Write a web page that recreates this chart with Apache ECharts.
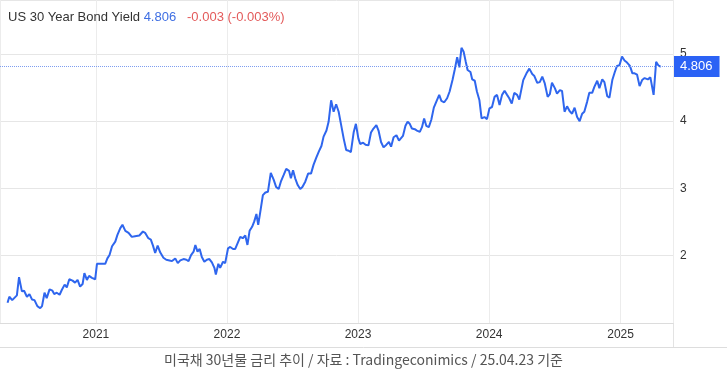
<!DOCTYPE html>
<html><head><meta charset="utf-8">
<script src="https://cdn.jsdelivr.net/npm/echarts@6/dist/echarts.min.js"></script>
<style>html,body{margin:0;padding:0;background:#fff}#c{width:727px;height:385px}</style>
</head><body><div id="c"></div>
<script>
const dates = [
'2020-04-30','2020-05-05','2020-05-13','2020-05-26','2020-06-01','2020-06-09','2020-06-15','2020-06-23','2020-06-30','2020-07-07',
'2020-07-14','2020-07-22','2020-07-30','2020-08-04','2020-08-11','2020-08-17','2020-08-25','2020-09-02','2020-09-07','2020-09-14',
'2020-09-22','2020-09-28','2020-10-06','2020-10-12','2020-10-19','2020-10-28','2020-11-04','2020-11-11','2020-11-18','2020-11-25',
'2020-11-30','2020-12-07','2020-12-13','2020-12-21','2020-12-30',
'2021-01-04','2021-01-13','2021-01-27','2021-02-02','2021-02-08','2021-02-15','2021-02-24','2021-03-02','2021-03-10','2021-03-16',
'2021-03-24','2021-04-02','2021-04-11','2021-04-20','2021-05-02','2021-05-12','2021-05-18','2021-05-27','2021-06-03','2021-06-09',
'2021-06-15','2021-06-22','2021-06-29','2021-07-08','2021-07-16','2021-07-25','2021-08-01','2021-08-10','2021-08-17','2021-08-24',
'2021-09-02','2021-09-10','2021-09-16','2021-09-23','2021-09-30','2021-10-05','2021-10-11','2021-10-17','2021-10-23','2021-10-30',
'2021-11-06','2021-11-13','2021-11-20','2021-11-27','2021-12-01','2021-12-08','2021-12-13','2021-12-21','2021-12-27',
'2022-01-04','2022-01-10','2022-01-18','2022-01-24','2022-01-31','2022-02-07','2022-02-14','2022-02-21','2022-02-27','2022-03-05',
'2022-03-12','2022-03-18','2022-03-24','2022-03-29','2022-04-04','2022-04-11','2022-04-18','2022-04-25','2022-05-03','2022-05-11',
'2022-05-18','2022-05-25','2022-05-31','2022-06-08','2022-06-15','2022-06-23','2022-06-28','2022-07-04','2022-07-10','2022-07-17',
'2022-07-24','2022-07-30','2022-08-07','2022-08-15','2022-08-23','2022-08-30','2022-09-07','2022-09-14','2022-09-21','2022-09-27',
'2022-10-05','2022-10-11','2022-10-18','2022-10-25','2022-11-01','2022-11-08','2022-11-15','2022-11-22','2022-11-29','2022-12-06',
'2022-12-12','2022-12-20','2022-12-26',
'2023-01-02','2023-01-07','2023-01-15','2023-01-22','2023-01-30','2023-02-06','2023-02-13','2023-02-21','2023-02-27','2023-03-06',
'2023-03-13','2023-03-21','2023-03-28','2023-04-03','2023-04-10','2023-04-18','2023-04-25','2023-05-06','2023-05-13','2023-05-19',
'2023-05-25','2023-05-31','2023-06-08','2023-06-14','2023-06-22','2023-06-28','2023-07-04','2023-07-10','2023-07-17','2023-07-24',
'2023-07-31','2023-08-07','2023-08-15','2023-08-21','2023-08-29','2023-09-06','2023-09-13','2023-09-21','2023-09-27','2023-10-04',
'2023-10-10','2023-10-16','2023-10-22','2023-10-28','2023-11-02','2023-11-10','2023-11-15','2023-11-22','2023-11-28','2023-12-05',
'2023-12-11','2023-12-19','2023-12-26',
'2024-01-02','2024-01-09','2024-01-16','2024-01-23','2024-01-30','2024-02-06','2024-02-13','2024-02-20','2024-02-26','2024-03-04',
'2024-03-11','2024-03-19','2024-03-25','2024-04-05','2024-04-14','2024-04-22','2024-04-30','2024-05-06','2024-05-14','2024-05-21',
'2024-05-28','2024-06-04','2024-06-12','2024-06-18','2024-06-24','2024-07-02','2024-07-08','2024-07-16','2024-07-22','2024-07-29',
'2024-08-05','2024-08-12','2024-08-19','2024-08-26','2024-09-02','2024-09-09','2024-09-16','2024-09-22','2024-09-30','2024-10-06',
'2024-10-14','2024-10-20','2024-10-28','2024-11-03','2024-11-11','2024-11-17','2024-11-25','2024-12-01','2024-12-09','2024-12-16',
'2024-12-22','2024-12-29',
'2025-01-05','2025-01-12','2025-01-19','2025-01-27','2025-02-03','2025-02-09','2025-02-16','2025-02-23','2025-03-02','2025-03-09',
'2025-03-18','2025-03-25','2025-04-03','2025-04-10','2025-04-16','2025-04-23'
];
const yields = [
1.30,1.39,1.34,1.41,1.68,1.47,1.48,1.39,1.43,1.35,
1.34,1.25,1.22,1.25,1.45,1.37,1.50,1.48,1.43,1.45,
1.42,1.49,1.57,1.53,1.65,1.63,1.60,1.64,1.54,1.58,
1.74,1.64,1.70,1.67,1.65,
1.88,1.88,1.88,1.96,2.01,2.14,2.21,2.31,2.41,2.46,
2.37,2.34,2.28,2.29,2.30,2.36,2.34,2.26,2.24,2.15,
2.04,2.15,2.05,1.97,1.94,1.93,1.92,1.96,1.89,1.93,
1.95,1.94,1.92,2.01,2.06,2.16,2.06,2.10,1.98,1.91,
1.94,1.95,1.90,1.82,1.72,1.88,1.82,1.91,1.89,
2.11,2.13,2.10,2.10,2.19,2.28,2.26,2.30,2.16,2.37,
2.43,2.51,2.62,2.46,2.66,2.90,2.94,2.95,3.23,3.13,
3.02,2.99,3.10,3.20,3.29,3.26,3.15,3.27,3.15,3.05,
2.99,3.02,3.10,3.22,3.22,3.35,3.46,3.55,3.63,3.77,
3.86,3.99,4.31,4.14,4.25,4.14,3.94,3.74,3.57,3.56,
3.54,3.84,3.96,
3.74,3.66,3.68,3.65,3.64,3.83,3.89,3.94,3.86,3.69,
3.61,3.65,3.69,3.62,3.76,3.79,3.71,3.78,3.93,3.99,
3.96,3.89,3.88,3.86,3.84,3.91,4.04,3.93,3.91,4.02,
4.20,4.29,4.39,4.30,4.28,4.34,4.44,4.61,4.76,4.95,
4.80,5.09,5.03,4.88,4.76,4.73,4.62,4.60,4.44,4.31,
4.04,4.06,4.03,
4.19,4.21,4.36,4.39,4.24,4.39,4.45,4.39,4.34,4.26,
4.42,4.39,4.32,4.61,4.71,4.78,4.70,4.67,4.57,4.58,
4.66,4.56,4.36,4.40,4.57,4.49,4.41,4.46,4.45,4.14,
4.22,4.15,4.11,4.20,4.06,4.00,4.11,4.14,4.29,4.42,
4.42,4.51,4.60,4.49,4.62,4.58,4.37,4.35,4.61,4.73,
4.82,4.83,
4.96,4.90,4.87,4.82,4.71,4.71,4.69,4.52,4.61,4.64,
4.62,4.65,4.39,4.88,4.83,4.806
];
const yTickLabels = [2, 3, 4, 5];
const lastValue = 4.806;
const seriesName = 'US 30 Year Bond Yield';
const changeText = '-0.003 (-0.003%)';
const caption = '미국채 30년물 금리 추이 / 자료 : Tradingeconimics / 25.04.23 기준';
const xMin = '2020-04-09';
const xMax = '2025-05-27';

const FONT = 'Liberation Sans, Arial, sans-serif';
const chart = echarts.init(document.getElementById('c'), null, {renderer: 'canvas'});
const DAY = 864e5;
chart.setOption({
  animation: false,
  backgroundColor: '#fff',
  title: {
    left: 3, top: 6,
    text: '{a|' + seriesName + '} {b|' + lastValue + '}   {c|' + changeText + '}',
    textStyle: {
      fontWeight: 'normal', fontSize: 13, fontFamily: FONT,
      rich: {
        a: {fontSize: 13, color: '#333', fontWeight: 'normal', fontFamily: FONT},
        b: {fontSize: 13, color: '#3f6fe3', fontWeight: 'normal', fontFamily: FONT},
        c: {fontSize: 13, color: '#e35a5a', fontWeight: 'normal', fontFamily: FONT}
      }
    }
  },
  grid: {left: 0, right: 54, top: 0, bottom: 62},
  xAxis: {
    type: 'time', min: xMin, max: xMax,
    minInterval: 365 * DAY, maxInterval: 366 * DAY,
    axisLine: {show: true, lineStyle: {color: '#dcdcdc'}},
    axisTick: {show: false},
    axisLabel: {formatter: '{yyyy}', color: '#333', fontSize: 12, margin: 6, fontFamily: FONT},
    splitLine: {show: true, lineStyle: {color: '#ececec'}}
  },
  yAxis: {
    type: 'value', position: 'right', min: 1, max: 5.8, interval: 1,
    axisLine: {show: false}, axisTick: {show: false},
    axisLabel: {
      formatter: v => yTickLabels.includes(v) ? String(v) : '',
      color: '#333', fontSize: 12, margin: 7, fontFamily: FONT
    },
    splitLine: {lineStyle: {color: '#e6e6e6'}}
  },
  series: [{
    type: 'line', name: seriesName,
    data: dates.map((d, i) => [d, yields[i]]),
    showSymbol: false, symbol: 'none',
    lineStyle: {color: '#2f66ee', width: 2},
    markLine: {
      silent: true, symbol: 'none',
      data: [{yAxis: lastValue}],
      lineStyle: {type: 'dotted', color: '#7e9df0', width: 1},
      label: {
        position: 'end', distance: 1, formatter: String(lastValue),
        backgroundColor: '#2b62f5', color: '#fff', fontSize: 13,
        padding: [4, 7, 4, 6], fontFamily: FONT
      }
    }
  }],
  graphic: [
    {type: 'line', shape: {x1: 0, y1: 347.5, x2: 727, y2: 347.5}, style: {stroke: '#dddddd', lineWidth: 1}, silent: true},
    {type: 'line', shape: {x1: 673.5, y1: 0, x2: 673.5, y2: 347}, style: {stroke: '#e3e3e3', lineWidth: 1}, silent: true},
    {type: 'text', left: 'center', top: 353, style: {text: caption, fill: '#555', font: '14px "Noto Sans CJK KR", sans-serif'}, silent: true}
  ]
});
</script>
</body></html>
